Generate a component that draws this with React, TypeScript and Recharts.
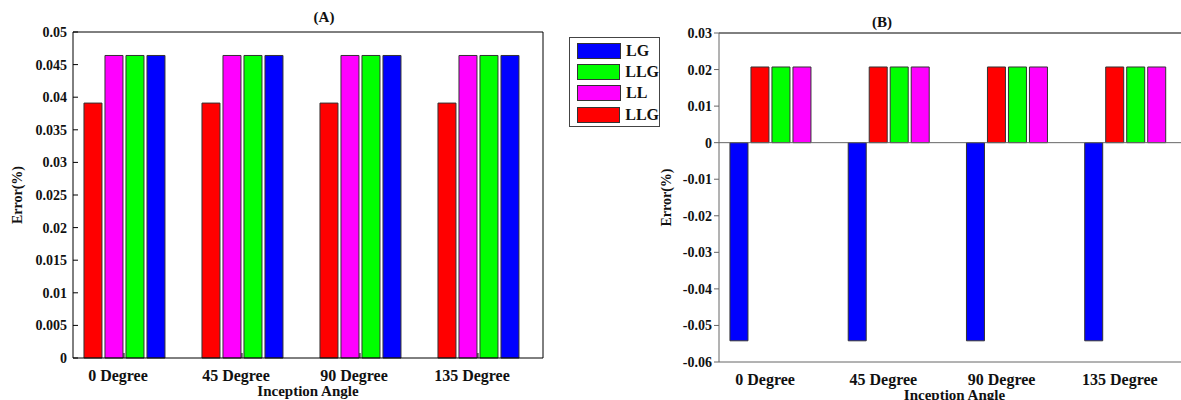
import { BarChart, Bar, XAxis, YAxis, Legend, ReferenceLine } from "recharts";

const categories = ["0 Degree", "45 Degree", "90 Degree", "135 Degree"];

// panel (A) values
const llgRedA = [0.0391, 0.0391, 0.0391, 0.0391];
const llA = [0.0464, 0.0464, 0.0464, 0.0464];
const llgGreenA = [0.0464, 0.0464, 0.0464, 0.0464];
const lgA = [0.0464, 0.0464, 0.0464, 0.0464];

// panel (B) values
const lgB = [-0.0542, -0.0542, -0.0542, -0.0542];
const llgRedB = [0.0207, 0.0207, 0.0207, 0.0207];
const llgGreenB = [0.0207, 0.0207, 0.0207, 0.0207];
const llB = [0.0207, 0.0207, 0.0207, 0.0207];

const yTicksA = [0, 0.005, 0.01, 0.015, 0.02, 0.025, 0.03, 0.035, 0.04, 0.045, 0.05];
const yTicksB = [-0.06, -0.05, -0.04, -0.03, -0.02, -0.01, 0, 0.01, 0.02, 0.03];
const legendLabels = ["LG", "LLG", "LL", "LLG"];

const BLUE = "#0000ff";
const GREEN = "#00ff00";
const MAGENTA = "#ff00ff";
const RED = "#ff0000";
const legendColors = [BLUE, GREEN, MAGENTA, RED];

const FONT = "Liberation Serif, serif";
const INK = "#111";

const xTicks = categories.map((_, i) => i + 1);
const xDomain: [number, number] = [0.568, 4.551];

const dataA = categories.map((name, i) => ({
  pos: i + 1,
  name,
  llgRed: llgRedA[i],
  ll: llA[i],
  llgGreen: llgGreenA[i],
  lg: lgA[i],
}));

const dataB = categories.map((name, i) => ({
  pos: i + 1,
  name,
  lg: lgB[i],
  llgRed: llgRedB[i],
  llgGreen: llgGreenB[i],
  ll: llB[i],
}));

const fmt = (v: number) => String(+v.toFixed(3));
const catLabel = (v: number) => categories[v - 1] ?? "";

const yTickStyle = { fontFamily: FONT, fontSize: 14, fontWeight: 700, fill: INK };
const xTickStyle = { fontFamily: FONT, fontSize: 16, fontWeight: 700, fill: INK };
const axisLabelStyle = { fontFamily: FONT, fontSize: 15, fontWeight: 700, fill: INK };

function LegendBox() {
  return (
    <div
      style={{
        border: "1px solid #444",
        background: "#fff",
        width: 91,
        height: 90,
        boxSizing: "border-box",
        padding: "2px 0 0 7px",
      }}
    >
      {legendLabels.map((label, i) => (
        <div key={i} style={{ display: "flex", alignItems: "center", height: 21.3 }}>
          <span
            style={{
              display: "inline-block",
              width: 44,
              height: 16,
              background: legendColors[i],
              border: "1px solid #333",
              boxSizing: "border-box",
            }}
          />
          <span
            style={{
              marginLeft: 5,
              fontFamily: FONT,
              fontSize: 16,
              fontWeight: 700,
              color: INK,
            }}
          >
            {label}
          </span>
        </div>
      ))}
    </div>
  );
}

const bar = (key: string, color: string) => (
  <Bar
    key={key}
    dataKey={key}
    fill={color}
    stroke="#333"
    strokeWidth={1}
    isAnimationActive={false}
  />
);

export default function App() {
  return (
    <div
      style={{
        position: "absolute",
        left: 0,
        top: 0,
        width: 1181,
        height: 400,
        overflow: "hidden",
        background: "#fff",
        fontFamily: FONT,
      }}
    >
      <div style={{ position: "absolute", left: 304, top: 9, width: 40, textAlign: "center", fontSize: 15, fontWeight: 700, color: INK }}>
        (A)
      </div>
      <div style={{ position: "absolute", left: 862, top: 14, width: 40, textAlign: "center", fontSize: 15, fontWeight: 700, color: INK }}>
        (B)
      </div>

      <div style={{ position: "absolute", left: 0, top: 0 }}>
        <BarChart
          width={680}
          height={400}
          data={dataA}
          margin={{ top: 31, right: 136, bottom: 0, left: 0 }}
          barSize={18}
          barGap={3}
        >
          <XAxis
            dataKey="pos"
            type="number"
            domain={xDomain}
            ticks={xTicks}
            tickFormatter={catLabel}
            height={42}
            stroke="#000"
            tickSize={-5}
            tickMargin={17}
            tick={{ ...xTickStyle, dx: -6 }}
            label={{ value: "Inception Angle", position: "insideBottom", offset: 4, style: axisLabelStyle }}
          />
          <XAxis
            xAxisId="top"
            orientation="top"
            dataKey="pos"
            type="number"
            domain={xDomain}
            height={1}
            stroke="#000"
            tick={false}
            tickLine={false}
          />
          <YAxis
            domain={[0, 0.05]}
            ticks={yTicksA}
            tickFormatter={fmt}
            width={73}
            stroke="#000"
            tickSize={-5}
            tickMargin={11}
            tick={yTickStyle}
            label={{
              value: "Error(%)",
              angle: -90,
              position: "insideLeft",
              offset: 17,
              style: { ...axisLabelStyle, fontSize: 14, textAnchor: "middle" },
            }}
          />
          <YAxis
            yAxisId="right"
            orientation="right"
            domain={[0, 0.05]}
            ticks={yTicksA}
            width={1}
            stroke="#000"
            tickSize={-5}
            tick={false}
          />
          {bar("llgRed", RED)}
          {bar("ll", MAGENTA)}
          {bar("llgGreen", GREEN)}
          {bar("lg", BLUE)}
          <Legend
            layout="vertical"
            align="center"
            verticalAlign="middle"
            content={<LegendBox />}
            wrapperStyle={{ left: 569, top: 37, width: 91, height: 90 }}
          />
        </BarChart>
      </div>

      <div style={{ position: "absolute", left: 640, top: 0 }}>
        <BarChart
          width={560}
          height={400}
          data={dataB}
          margin={{ top: 32, right: 10, bottom: 0, left: 0 }}
          barSize={18}
          barGap={3}
        >
          <XAxis
            dataKey="pos"
            type="number"
            domain={xDomain}
            ticks={xTicks}
            tickFormatter={catLabel}
            height={38}
            stroke="#666"
            tickLine={false}
            tickMargin={6}
            tick={{ ...xTickStyle, dx: -5 }}
            label={{ value: "Inception Angle", position: "insideBottom", offset: 0, style: axisLabelStyle }}
          />
          <XAxis
            xAxisId="top"
            orientation="top"
            dataKey="pos"
            type="number"
            domain={xDomain}
            height={1}
            stroke="#000"
            tick={false}
            tickLine={false}
          />
          <YAxis
            domain={[-0.06, 0.03]}
            ticks={yTicksB}
            tickFormatter={fmt}
            width={79}
            stroke="#666"
            tickSize={5}
            tickMargin={2}
            tick={yTickStyle}
            label={{
              value: "Error(%)",
              angle: -90,
              position: "insideLeft",
              offset: 26,
              style: { ...axisLabelStyle, fontSize: 14, textAnchor: "middle" },
            }}
          />
          <ReferenceLine y={0} stroke="#666" strokeWidth={1} />
          {bar("lg", BLUE)}
          {bar("llgRed", RED)}
          {bar("llgGreen", GREEN)}
          {bar("ll", MAGENTA)}
        </BarChart>
      </div>
    </div>
  );
}
